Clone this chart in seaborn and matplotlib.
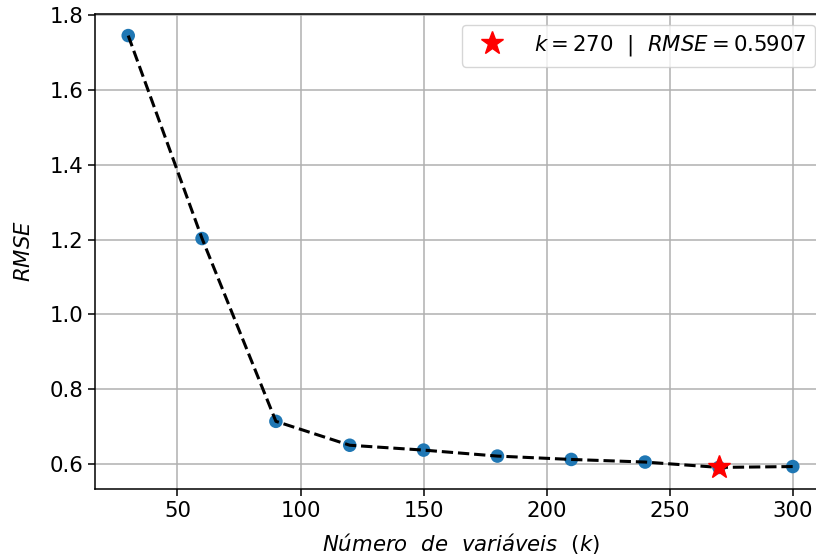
import matplotlib
matplotlib.use("Agg")
import matplotlib.pyplot as plt
import seaborn as sns
import pandas as pd

k_values = [30, 60, 90, 120, 150, 180, 210, 240, 270, 300]
rmse_values = [1.746, 1.203, 0.714, 0.650, 0.637, 0.621, 0.612, 0.605, 0.5907, 0.593]
best_k = 270
best_rmse = 0.5907

df = pd.DataFrame({"k": k_values, "rmse": rmse_values})

sns.set_style("ticks")
plt.rcParams["font.family"] = ["DejaVu Sans"]
plt.rcParams["mathtext.fontset"] = "dejavusans"
for key in ["text.color", "axes.labelcolor", "xtick.color", "ytick.color"]:
    plt.rcParams[key] = "black"

FS = 15.3

fig = plt.figure(figsize=(8.16, 5.6), dpi=100)
ax = fig.add_axes([95 / 816, 71 / 560, (826 - 95) / 816, (489 - 14) / 560])

sns.scatterplot(data=df, x="k", y="rmse", ax=ax, s=95, color="#1f77b4",
                edgecolor="none", zorder=2)
sns.lineplot(data=df, x="k", y="rmse", ax=ax, color="black", linestyle="--",
             linewidth=2.2, zorder=3)
ax.plot([best_k], [best_rmse], marker="*", color="red", markersize=17,
        linestyle="none", zorder=4,
        label=r"$k = %d$  |  $RMSE = %.4f$" % (best_k, best_rmse))

ax.grid(True, color="#b0b0b0", linewidth=1.1)
ax.set_axisbelow(True)
ax.set_xlabel(r"$Número\ \ de\ \ variáveis\ \ (k)$", fontsize=FS, labelpad=7)
ax.set_ylabel(r"$RMSE$", fontsize=FS, labelpad=11)
ax.tick_params(labelsize=FS, length=5, width=1.1, colors="black")
for s in ax.spines.values():
    s.set_linewidth(1.1)
    s.set_color("black")
ax.set_xticks([50, 100, 150, 200, 250, 300])
ax.set_yticks([0.6, 0.8, 1.0, 1.2, 1.4, 1.6, 1.8])
ax.margins(x=0.05, y=0.05)

leg = ax.legend(loc="upper right", fontsize=FS, borderaxespad=0.5,
                handletextpad=1.0)

fig.savefig("out.png", dpi=100)
